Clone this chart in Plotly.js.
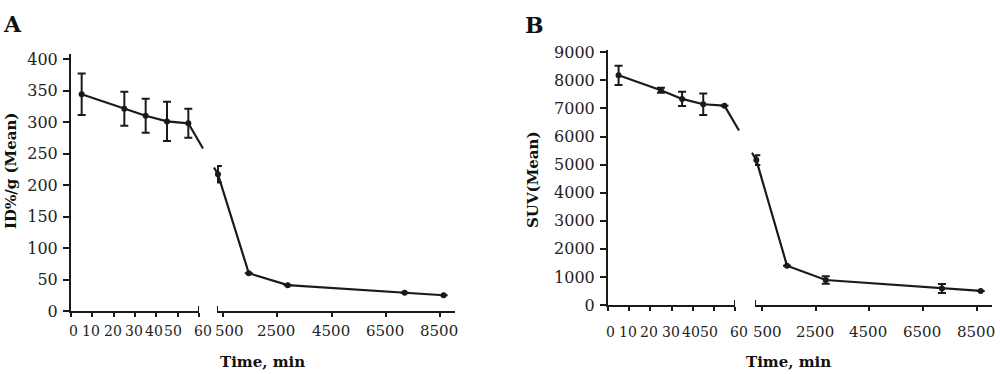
<!DOCTYPE html>
<html>
<head>
<meta charset="utf-8">
<script src="https://cdn.plot.ly/plotly-3.0.1.min.js"></script>
<style>html,body{margin:0;padding:0;background:#fff;}#chart{width:1000px;height:374px;}</style>
</head>
<body>
<div id="chart"></div>
<script>
// ---------- data ----------
// Panel A: ID%/g (Mean)
const timeEarly = [5, 25, 35, 45, 55];            // minutes, 0-60 segment
const timeLate  = [300, 1440, 2880, 7200, 8640];  // minutes, 500-8500 segment
const idEarly    = [344, 321, 310, 301, 298];
const idEarlyErr = [33, 27, 27, 31, 23];
const idLate     = [217, 60, 41, 29, 25];
const idLateErr  = [13, 0, 0, 0, 0];
// Panel B: SUV (Mean)
const suvEarly    = [8180, 7650, 7340, 7150, 7100];
const suvEarlyErr = [345, 90, 255, 385, 0];
const suvLate     = [5160, 1400, 890, 590, 500];
const suvLateErr  = [170, 0, 130, 160, 0];
// tick labels
const earlyTicks = [0, 10, 20, 30, 40, 50, 60];
const lateTicks  = [500, 2500, 4500, 6500, 8500];
const idTicks    = [0, 50, 100, 150, 200, 250, 300, 350, 400];
const suvTicks   = [0, 1000, 2000, 3000, 4000, 5000, 6000, 7000, 8000, 9000];

// ---------- styling ----------
const W = 1000, H = 374;
const INK = '#1a1a1a';
const SERIF = 'DejaVu Serif, Liberation Serif, serif';
const py = p => 1 - p / H;
const earlyShift = [2, -1, -1, -1, -2, -5, 4];
const lateShift  = [6, -1, -1, -1, -1];

function xAxis(domain, range, anchor, ticks) {
  return {domain, range, anchor, showline: true, linewidth: 2, linecolor: INK,
    ticks: 'outside', ticklen: 4, tickwidth: 2, tickcolor: INK, tickvals: ticks,
    showticklabels: false, showgrid: false, zeroline: false, fixedrange: true};
}
function yAxis(domain, range, anchor, ticks) {
  return {domain, range, anchor, showline: true, linewidth: 2, linecolor: INK,
    ticks: 'outside', ticklen: 6, tickwidth: 2, tickcolor: INK, tickvals: ticks,
    ticktext: ticks.map(String), ticklabelstandoff: 2,
    tickfont: {family: SERIF, size: 16, color: '#222'},
    showgrid: false, zeroline: false, fixedrange: true};
}

const layout = {
  width: W, height: H, margin: {l: 0, r: 0, t: 0, b: 0},
  paper_bgcolor: '#fff', plot_bgcolor: 'rgba(0,0,0,0)', showlegend: false,
  xaxis:  xAxis([0.071, 0.199], [0, 60], 'y', earlyTicks),
  xaxis2: xAxis([0.217, 0.455], [265, 9060], 'y', lateTicks),
  xaxis3: xAxis([0.608, 0.735], [0, 60], 'y2', earlyTicks),
  xaxis4: xAxis([0.755, 0.992], [250, 9060], 'y2', lateTicks),
  yaxis:  yAxis([py(311), py(54)], [0, 408], 'x', idTicks),
  yaxis2: yAxis([py(305), py(49.5)], [0, 9100], 'x3', suvTicks),
  shapes: [], annotations: []
};

function trace(x, y, err, xa, ya) {
  return {x, y, xaxis: xa, yaxis: ya, type: 'scatter', mode: 'lines+markers',
    line: {color: INK, width: 2.2}, marker: {color: INK, size: 6},
    error_y: {type: 'data', array: err, visible: true, color: INK, thickness: 2, width: 4},
    cliponaxis: false, hoverinfo: 'x+y'};
}
const data = [
  trace(timeEarly, idEarly, idEarlyErr, 'x', 'y'),
  trace(timeLate, idLate, idLateErr, 'x2', 'y'),
  trace(timeEarly, suvEarly, suvEarlyErr, 'x3', 'y2'),
  trace(timeLate, suvLate, suvLateErr, 'x4', 'y2')
];

// pixel helpers from axis definitions
const xpx = (ax, v) => (ax.domain[0] + (v - ax.range[0]) / (ax.range[1] - ax.range[0]) * (ax.domain[1] - ax.domain[0])) * W;
const ypx = (ax, v) => (1 - (ax.domain[0] + (v - ax.range[0]) / (ax.range[1] - ax.range[0]) * (ax.domain[1] - ax.domain[0]))) * H;

// broken-axis end bars and the interrupted connecting line
function breakParts(axL, axR, yax, xName, xName2, yName, tE, vE, tL, vL) {
  const bar = (xref, x) => ({type: 'line', xref, yref: yName, x0: x, x1: x,
    ysizemode: 'pixel', yanchor: 0, y0: -5, y1: 5, line: {color: INK, width: 2}});
  layout.shapes.push(bar(xName, axL.range[1]));
  layout.shapes.push(bar(xName2, axR.range[0]));
  const p = {x: xpx(axL, tE[tE.length - 1]), y: ypx(yax, vE[vE.length - 1])};
  const q = {x: xpx(axR, tL[0]), y: ypx(yax, vL[0])};
  const at = x => p.y + (q.y - p.y) * (x - p.x) / (q.x - p.x);
  const gl = axL.domain[1] * W + 4, gr = axR.domain[0] * W - 3;
  const seg = (x0, x1) => ({type: 'line', xref: 'paper', yref: 'paper',
    x0: x0 / W, x1: x1 / W, y0: 1 - at(x0) / H, y1: 1 - at(x1) / H,
    line: {color: INK, width: 2.2}});
  layout.shapes.push(seg(p.x, gl));
  if (gr < q.x) layout.shapes.push(seg(gr, q.x));
}
breakParts(layout.xaxis, layout.xaxis2, layout.yaxis, 'x', 'x2', 'y', timeEarly, idEarly, timeLate, idLate);
breakParts(layout.xaxis3, layout.xaxis4, layout.yaxis2, 'x3', 'x4', 'y2', timeEarly, suvEarly, timeLate, suvLate);

// x tick labels
function tickLabels(xref, ticks, shifts, yPix, size) {
  ticks.forEach((v, i) => layout.annotations.push({xref, yref: 'paper', x: v, y: py(yPix),
    text: String(v), showarrow: false, xshift: shifts[i],
    font: {family: SERIF, size, color: '#222'},
    xanchor: 'center', yanchor: 'middle'}));
}
tickLabels('x', earlyTicks, earlyShift, 331, 14);
tickLabels('x2', lateTicks, lateShift, 331, 15);
tickLabels('x3', earlyTicks, earlyShift, 332, 14);
tickLabels('x4', lateTicks, lateShift, 332, 15);

// titles and panel letters
const bold = (s) => ({family: SERIF, size: s, color: '#111', weight: 'bold'});
function txt(text, xp, yp, font, angle) {
  layout.annotations.push({xref: 'paper', yref: 'paper', x: xp / W, y: py(yp), text,
    showarrow: false, font, textangle: angle || 0, xanchor: 'center', yanchor: 'middle'});
}
txt('ID%/g (Mean)', 11, 171, bold(15), -90);
txt('SUV(Mean)', 533, 180, bold(15), -90);
txt('Time, min', 262, 362, bold(15));
txt('Time, min', 788, 362, bold(15));
txt('A', 12, 24, bold(22));
txt('B', 534, 25, bold(22));

Plotly.newPlot('chart', data, layout, {displayModeBar: false, staticPlot: true});
</script>
</body>
</html>
